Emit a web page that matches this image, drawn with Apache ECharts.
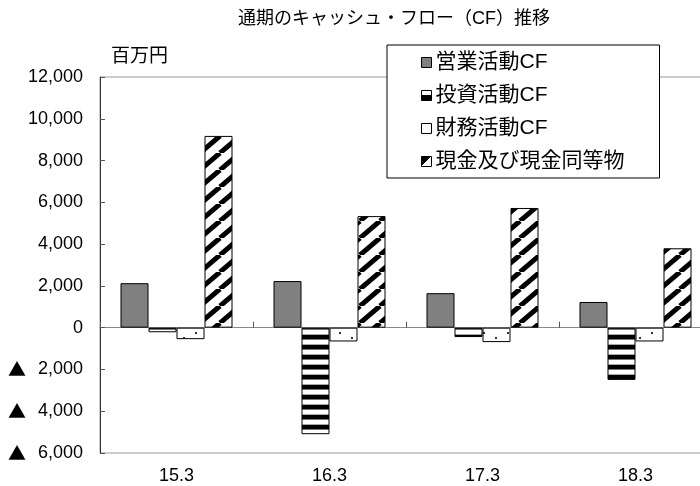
<!DOCTYPE html>
<html>
<head>
<meta charset="utf-8">
<script src="https://cdn.jsdelivr.net/npm/echarts@6/dist/echarts.min.js"></script>
<style>
  html, body { margin: 0; padding: 0; background: #fff; }
  #chart { width: 700px; height: 486px; }
</style>
</head>
<body>
<div id="chart"></div>
<script>
// Fiscal-year cash flow figures (millions of yen)
const categories = ['15.3', '16.3', '17.3', '18.3'];
const operatingCF = [2130, 2230, 1650, 1230];
const investingCF = [-220, -5100, -450, -2500];
const financingCF = [-550, -660, -690, -660];
const cashEquivalents = [9180, 5340, 5730, 3800];
const seriesNames = ['営業活動CF', '投資活動CF', '財務活動CF', '現金及び現金同等物'];
const yMin = -6000, yMax = 12000, yStep = 2000;

const FONT = "'Liberation Sans', 'Noto Sans CJK JP', sans-serif";
const CJK = "'Noto Sans CJK JP', sans-serif";

function tile(w, h, draw) {
  const c = document.createElement('canvas');
  c.width = w; c.height = h;
  const ctx = c.getContext('2d');
  ctx.fillStyle = '#fff';
  ctx.fillRect(0, 0, w, h);
  draw(ctx, w, h);
  return { image: c, repeat: 'repeat' };
}

// horizontal black/white stripes
const hStripes = tile(10, 10, (ctx) => {
  ctx.fillStyle = '#aaa'; ctx.fillRect(0, 4, 10, 1);
  ctx.fillStyle = '#000'; ctx.fillRect(0, 5, 10, 4);
  ctx.fillStyle = '#777'; ctx.fillRect(0, 9, 10, 1);
});

// sparse staggered dots on white
const dots = tile(24, 11, (ctx) => {
  ctx.fillStyle = '#333';
  ctx.fillRect(3, 2, 2, 2);
  ctx.fillRect(15, 7, 2, 2);
});

// diagonal "/" stripes
const diag = tile(20, 17, (ctx, w, h) => {
  ctx.strokeStyle = '#000';
  ctx.lineWidth = 5;
  for (let k = -1; k <= 1; k++) {
    ctx.beginPath();
    ctx.moveTo(k * w, h);
    ctx.lineTo(k * w + w, 0);
    ctx.stroke();
  }
});

// small swatches for the legend keys
function hardSplit(x, y, x2, y2, a, b) {
  return new echarts.graphic.LinearGradient(x, y, x2, y2, [
    { offset: 0, color: a }, { offset: 0.5, color: a },
    { offset: 0.5, color: b }, { offset: 1, color: b }
  ]);
}
const legendFills = [
  '#808080',
  hardSplit(0, 0, 0, 1, '#fff', '#000'),
  '#fff',
  hardSplit(0, 0, 1, 1, '#000', '#fff')
];

function fmtY(v) {
  const s = Math.abs(v).toLocaleString('en-US');
  return v < 0 ? '{tri|▲} ' + s : s;
}

const chart = echarts.init(document.getElementById('chart'), null, { renderer: 'canvas' });

const border = { borderColor: '#000', borderWidth: 1 };
const fills = ['#808080', hStripes, dots, diag];
const values = [operatingCF, investingCF, financingCF, cashEquivalents];

chart.setOption({
  animation: false,
  backgroundColor: '#fff',
  title: [
    {
      text: '通期のキャッシュ・フロー（CF）推移',
      left: 238, top: 10, padding: 0,
      textStyle: { fontFamily: FONT, fontSize: 18, fontWeight: 'normal', color: '#000' }
    },
    {
      text: '百万円',
      left: 111, top: 47, padding: 0,
      textStyle: { fontFamily: FONT, fontSize: 19, fontWeight: 'normal', color: '#000' }
    }
  ],
  legend: {
    orient: 'vertical',
    left: 387, top: 45,
    padding: [7, 35, 6, 34],
    itemGap: 12,
    itemWidth: 10, itemHeight: 10,
    icon: 'rect',
    selectedMode: false,
    backgroundColor: '#fff',
    borderColor: '#000',
    borderWidth: 1,
    borderRadius: 0,
    textStyle: { fontFamily: FONT, fontSize: 21, color: '#000', padding: [0, 0, 0, -1] },
    data: seriesNames.map((name, i) => ({
      name: name,
      itemStyle: { color: legendFills[i], borderColor: '#000', borderWidth: 1 }
    }))
  },
  grid: {
    show: true,
    left: 100, width: 612, top: 77, bottom: 33,
    outerBoundsMode: 'none',
    borderColor: '#999', borderWidth: 1,
    containLabel: false
  },
  xAxis: [
    {
      type: 'category',
      data: categories,
      axisLine: { show: true, onZero: true, lineStyle: { color: '#888', width: 1 } },
      axisTick: { show: true, inside: true, length: 6, lineStyle: { color: '#555' } },
      axisLabel: { show: false },
      splitLine: { show: false }
    },
    {
      type: 'category',
      data: categories,
      position: 'bottom',
      axisLine: { show: false, onZero: false },
      axisTick: { show: false },
      axisLabel: { show: true, fontFamily: FONT, fontSize: 18, color: '#000', margin: 14 },
      splitLine: { show: false }
    }
  ],
  yAxis: {
    type: 'value',
    min: yMin, max: yMax, interval: yStep,
    axisLine: { show: true, lineStyle: { color: '#333', width: 1 } },
    axisTick: { show: true, inside: true, length: 5, lineStyle: { color: '#555' } },
    axisLabel: {
      fontFamily: FONT, fontSize: 18, color: '#000', margin: 17, formatter: fmtY,
      rich: { tri: { fontFamily: CJK, fontSize: 18, color: '#000', padding: [0, 7, 0, 0] } }
    },
    splitLine: { show: false }
  },
  series: seriesNames.map((name, i) => ({
    name: name,
    type: 'bar',
    xAxisIndex: 0,
    data: values[i],
    barWidth: 28,
    barGap: '0%',
    itemStyle: Object.assign({ color: fills[i] }, border)
  }))
});
</script>
</body>
</html>
